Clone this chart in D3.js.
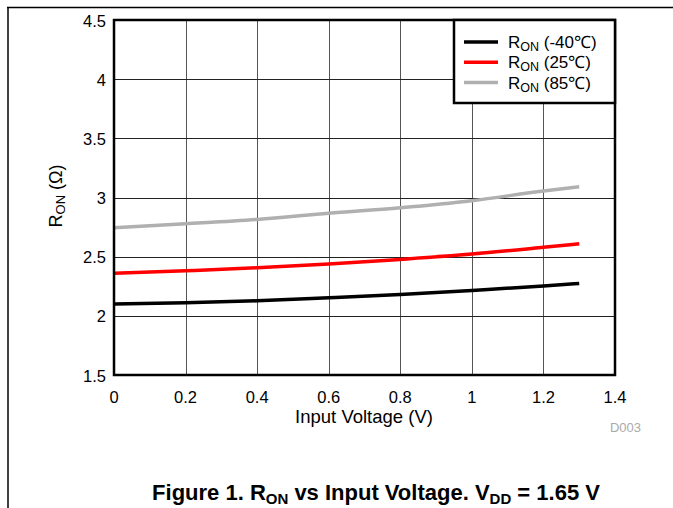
<!DOCTYPE html>
<html>
<head>
<meta charset="utf-8">
<script src="https://cdn.jsdelivr.net/npm/d3@7"></script>
<style>
  body { margin: 0; background: #fff; }
  text { font-family: "Liberation Sans", Arial, sans-serif; }
</style>
</head>
<body>
<script>
const voltage = [0, 0.2, 0.4, 0.6, 0.8, 1.0, 1.2, 1.3]
const ronMinus40 = [2.099, 2.11, 2.127, 2.153, 2.181, 2.215, 2.252, 2.274]
const ron25 = [2.359, 2.381, 2.406, 2.437, 2.477, 2.522, 2.579, 2.609]
const ron85 = [2.744, 2.778, 2.815, 2.866, 2.913, 2.973, 3.055, 3.09]
const xTicks = [0, 0.2, 0.4, 0.6, 0.8, 1, 1.2, 1.4]
const yTicks = [1.5, 2, 2.5, 3, 3.5, 4, 4.5]
const seriesNames = ['(-40\u2103)', '(25\u2103)', '(85\u2103)']

const width = 673
const height = 508
const plotLeft = 114, plotRight = 615, plotTop = 20, plotBottom = 375

const svg = d3.select("body").append("svg")
    .attr("width", width)
    .attr("height", height)

// page frame
svg.append("line").attr("x1", 7).attr("x2", width).attr("y1", 7.5).attr("y2", 7.5)
    .attr("stroke", "#000").attr("stroke-width", 1.5)
svg.append("line").attr("x1", 8).attr("x2", 8).attr("y1", 7).attr("y2", height)
    .attr("stroke", "#000").attr("stroke-width", 1.5)

const x = d3.scaleLinear().domain([0, 1.4]).range([plotLeft, plotRight])
const y = d3.scaleLinear().domain([1.5, 4.5]).range([plotBottom, plotTop])

// grid
svg.append("g").selectAll("line").data(xTicks.slice(1, -1)).enter().append("line")
    .attr("x1", d => Math.round(x(d)) + 0.5).attr("x2", d => Math.round(x(d)) + 0.5)
    .attr("y1", plotTop).attr("y2", plotBottom)
    .attr("stroke", "#555").attr("stroke-width", 1)
svg.append("g").selectAll("line").data(yTicks.slice(1, -1)).enter().append("line")
    .attr("x1", plotLeft).attr("x2", plotRight)
    .attr("y1", d => Math.round(y(d)) + 0.5).attr("y2", d => Math.round(y(d)) + 0.5)
    .attr("stroke", "#222").attr("stroke-width", 1)

// tick labels
svg.append("g").selectAll("text").data(yTicks).enter().append("text")
    .attr("x", 106).attr("y", d => y(d) + 6.5)
    .attr("text-anchor", "end").attr("font-size", 16.5)
    .text(d => d)
svg.append("g").selectAll("text").data(xTicks).enter().append("text")
    .attr("x", d => x(d)).attr("y", 403)
    .attr("text-anchor", "middle").attr("font-size", 16.5)
    .text(d => d)

// lines
const allSeries = [
    { values: ronMinus40, color: "#000000" },
    { values: ron25, color: "#ff0000" },
    { values: ron85, color: "#b0b0b0" }
]
const line = d3.line()
    .x((d, i) => x(voltage[i]))
    .y(d => y(d))
    .curve(d3.curveMonotoneX)

svg.append("g").selectAll("path").data(allSeries).enter().append("path")
    .attr("d", d => line(d.values))
    .attr("fill", "none")
    .attr("stroke", d => d.color)
    .attr("stroke-width", 3.5)

// plot border
svg.append("rect")
    .attr("x", plotLeft).attr("y", plotTop)
    .attr("width", plotRight - plotLeft).attr("height", plotBottom - plotTop)
    .attr("fill", "none").attr("stroke", "#000").attr("stroke-width", 2.5)

// legend
const legend = svg.append("g")
legend.append("rect")
    .attr("x", 454).attr("y", plotTop)
    .attr("width", plotRight - 454).attr("height", 83)
    .attr("fill", "#fff").attr("stroke", "#000").attr("stroke-width", 2.5)
const entries = legend.selectAll("g.entry").data(allSeries).enter().append("g")
    .attr("transform", (d, i) => `translate(0, ${42 + i * 20.3})`)
entries.append("line")
    .attr("x1", 464).attr("x2", 498).attr("y1", 0).attr("y2", 0)
    .attr("stroke", d => d.color).attr("stroke-width", 3.5)
const ltext = entries.append("text")
    .attr("x", 508).attr("y", 6).attr("font-size", 17)
ltext.append("tspan").text("R")
ltext.append("tspan").attr("font-size", 12.5).attr("dy", 3).text("ON")
ltext.append("tspan").attr("dy", -3).text((d, i) => " " + seriesNames[i])

// axis titles
svg.append("text")
    .attr("x", 364).attr("y", 423)
    .attr("text-anchor", "middle").attr("font-size", 18.5)
    .text("Input Voltage (V)")

const yTitle = svg.append("text")
    .attr("transform", "translate(62, 196) rotate(-90)")
    .attr("text-anchor", "middle").attr("font-size", 18)
yTitle.append("tspan").text("R")
yTitle.append("tspan").attr("font-size", 13).attr("dy", 3).text("ON")
yTitle.append("tspan").attr("dy", -3).text(" (\u03A9)")

svg.append("text")
    .attr("x", 641).attr("y", 432)
    .attr("text-anchor", "end").attr("font-size", 13)
    .attr("fill", "#aaa")
    .text("D003")

// figure caption
const caption = svg.append("text")
    .attr("x", 376).attr("y", 500)
    .attr("text-anchor", "middle").attr("font-size", 22).attr("font-weight", "bold")
caption.append("tspan").text("Figure 1. R")
caption.append("tspan").attr("font-size", 15).attr("dy", 3.5).text("ON")
caption.append("tspan").attr("dy", -3.5).text(" vs Input Voltage. V")
caption.append("tspan").attr("font-size", 15).attr("dy", 3.5).text("DD")
caption.append("tspan").attr("dy", -3.5).text(" = 1.65 V")
</script>
</body>
</html>
